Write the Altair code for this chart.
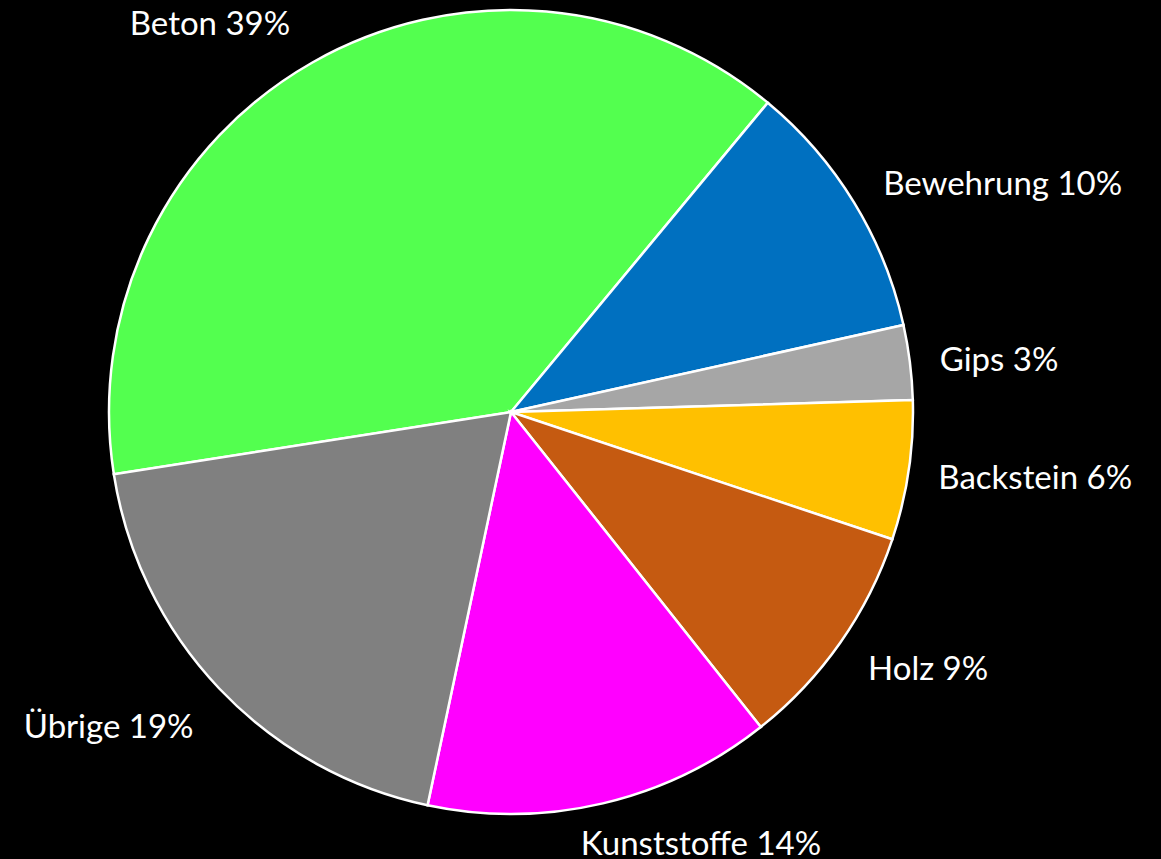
import altair as alt
import pandas as pd
import math

categories = ["Beton", "Bewehrung", "Gips", "Backstein", "Holz", "Kunststoffe", "Übrige"]
values = [38.5, 10.5, 3.0, 5.6, 9.2, 14.0, 19.2]
labels = ["Beton 39%", "Bewehrung 10%", "Gips 3%", "Backstein 6%", "Holz 9%", "Kunststoffe 14%", "Übrige 19%"]
colors = ["#53FF4F", "#0070C0", "#A6A6A6", "#FFC000", "#C55A11", "#FF00FF", "#808080"]

df = pd.DataFrame({
    "cat": categories,
    "value": values,
    "label": labels,
    "order": list(range(len(categories))),
})

start = math.radians(261.1)
theta_scale = alt.Scale(domain=[0, sum(values)], range=[start, start + 2 * math.pi])
CX, CY, R = 511, 412, 402
FONT = "Lato"
FS = 33

base = alt.Chart(df).transform_stack(
    stack="value", groupby=[], as_=["v0", "v1"], sort=[alt.SortField("order", order="ascending")]
).transform_calculate(mid="(datum.v0 + datum.v1) / 2")

pie = base.mark_arc(outerRadius=R, stroke="white", strokeWidth=2.5).encode(
    theta=alt.Theta("v0:Q", scale=theta_scale),
    theta2="v1:Q",
    x=alt.value(CX),
    y=alt.value(CY),
    color=alt.Color("cat:N", scale=alt.Scale(domain=categories, range=colors), legend=None),
)

def label_layer(cats, align, radius, dx=0, dy=0):
    return base.transform_filter(alt.FieldOneOfPredicate(field="cat", oneOf=cats)).mark_text(
        radius=radius, align=align, baseline="middle", font=FONT, fontSize=FS,
        color="white", dx=dx, dy=dy,
    ).encode(
        theta=alt.Theta("mid:Q", scale=theta_scale),
        x=alt.value(CX),
        y=alt.value(CY),
        text="label:N",
    )

layers = [
    pie,
    label_layer(["Bewehrung"], "left", 436),
    label_layer(["Gips", "Backstein"], "left", 436, dx=-4, dy=3),
    label_layer(["Holz"], "left", 436, dy=8),
    label_layer(["Beton"], "right", 447, dy=2),
    label_layer(["Übrige"], "right", 447, dx=7, dy=9),
    label_layer(["Kunststoffe"], "left", 445, dx=-32),
]

chart = alt.layer(*layers).properties(
    width=1161, height=859, background="black",
    autosize=alt.AutoSizeParams(type="none"), padding=0,
).configure_view(stroke=None)

chart.save("out.html", embed_options={"renderer": "svg", "actions": False})
